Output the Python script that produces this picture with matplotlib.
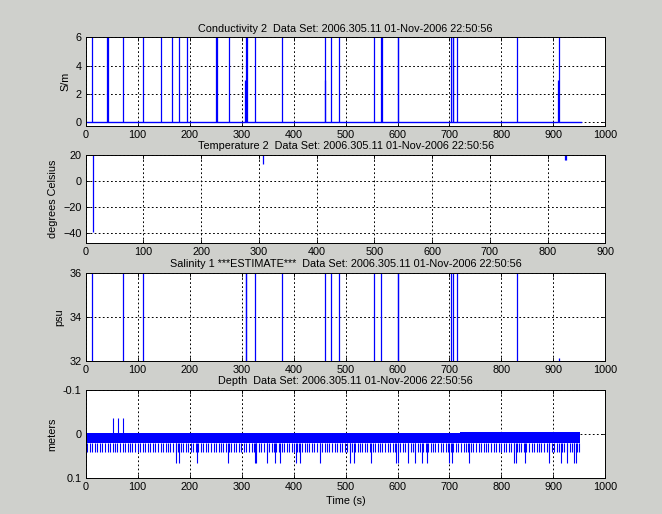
import numpy as np
import matplotlib.pyplot as plt

# Font that looks like the MATLAB default
plt.rcParams['font.family'] = ['Liberation Sans Narrow', 'Liberation Sans', 'DejaVu Sans']

# DATA
data_set = 'Data Set: 2006.305.11 01-Nov-2006 22:50:56'

# Conductivity 2 (S/m): flat at 0 with spikes off the top of the plot
cond_end = 953
cond_spike_times = [13, 41.5, 42.5, 72.4, 110.7, 144, 166.8, 179.8, 194.5, 251.4, 252.2,
                    276.6, 306, 309, 310, 326, 378, 459.7, 461, 472, 487, 554, 568.5, 569.5,
                    600, 600.8, 702, 706, 707, 715, 830, 909, 910.5]
cond_spike_values = [8, 8, 8, 8, 8, 8, 8, 8, 8, 8, 8,
                     8, 3, 8, 8, 8, 8, 3, 8, 8, 8, 8, 8, 8,
                     8, 8, 8, 8, 8, 8, 8, 3, 8]

# Temperature 2: sits above 20, dips below it three times
temp_level = 25
temp_spike_times = [13, 307.6, 830, 831]
temp_spike_values = [-39, 13, 16, 16]

# Salinity 1: sits below 32, spikes through the whole range
sal_level = 30
sal_spike_times = [13, 72, 110.7, 308, 309, 326, 378, 460, 472, 487, 554, 569, 600, 600.8,
                   703, 706, 715, 830, 910]
sal_spike_values = [40, 40, 40, 40, 40, 40, 40, 40, 40, 40, 40, 40, 40, 40,
                    40, 40, 40, 40, 32.15]

# Depth (m): a dense band near 0 with regular downward ticks
depth_band_start = [0, 380, 720]
depth_band_end = [380, 720, 952]
depth_band_top = [-0.002, -0.003, -0.004]
depth_band_bottom = 0.02
depth_tick_times = [3, 8, 13, 18, 22, 27, 32, 37, 42, 47,
                    52, 56, 61, 66, 71, 76, 81, 86, 90, 95,
                    100, 105, 110, 115, 120, 124, 129, 134, 139, 144,
                    149, 154, 158, 163, 168, 173, 178, 183, 188, 192,
                    197, 202, 207, 212, 217, 222, 226, 231, 236, 241,
                    246, 251, 256, 260, 265, 270, 275, 280, 285, 290,
                    294, 299, 304, 309, 314, 319, 324, 328, 333, 338,
                    343, 348, 353, 358, 362, 367, 372, 377, 382, 387,
                    392, 396, 401, 406, 411, 416, 421, 426, 430, 435,
                    440, 445, 450, 455, 460, 464, 469, 474, 479, 484,
                    489, 494, 498, 503, 508, 513, 518, 523, 528, 532,
                    537, 542, 547, 552, 557, 562, 566, 571, 576, 581,
                    586, 591, 596, 600, 605, 610, 615, 620, 625, 630,
                    634, 639, 644, 649, 654, 659, 664, 668, 673, 678,
                    683, 688, 693, 698, 702, 707, 712, 717, 722, 727,
                    732, 736, 741, 746, 751, 756, 761, 766, 770, 775,
                    780, 785, 790, 795, 800, 804, 809, 814, 819, 824,
                    829, 834, 838, 843, 848, 853, 858, 863, 868, 872,
                    877, 882, 887, 892, 897, 902, 906, 911, 916, 921,
                    926, 931, 936, 940, 945, 950]
depth_tick_depth = 0.042
depth_deep_times = [174, 180, 215, 274, 325, 328, 349, 364, 373, 404, 412, 450, 508, 516,
                    549, 597, 600, 620, 634, 647, 657, 700, 704, 738, 825, 828, 845, 892,
                    915, 926, 940, 944]
depth_deep_depth = 0.066
depth_up_times = [52, 63, 72]
depth_up_depth = -0.036

# STYLE
bg = '#cfd0cc'
blue = '#0000ff'
fs = 7.8

fig = plt.figure(figsize=(6.62, 5.14), dpi=100, facecolor=bg)

left, width, height = 0.1295, 0.785, 0.1718
bottoms = [0.7556, 0.5276, 0.2977, 0.0700]
axes = [fig.add_axes([left, b, width, height]) for b in bottoms]


def style_axis(ax):
    ax.set_facecolor('white')
    ax.set_axisbelow(True)
    ax.grid(True, color='black', linestyle=(0, (1.8, 2.4)), linewidth=0.7)
    ax.tick_params(direction='in', length=3, labelsize=fs, pad=3,
                   top=True, right=True, width=0.6)
    for s in ax.spines.values():
        s.set_linewidth(0.7)


# Conductivity
ax = axes[0]
ax.plot([0, cond_end], [0, 0], color=blue, linewidth=1.0)
ax.vlines(cond_spike_times, 0, cond_spike_values, colors=blue, linewidth=0.9)
ax.set_xlim(0, 1000)
ax.set_ylim(-0.25, 6)
ax.set_xticks(range(0, 1001, 100))
ax.set_yticks([0, 2, 4, 6])
ax.set_ylabel('S/m', fontsize=fs)
ax.set_title('Conductivity 2  ' + data_set, fontsize=fs, pad=4)
style_axis(ax)

# Temperature
ax = axes[1]
ax.vlines(temp_spike_times, temp_level, temp_spike_values, colors=blue, linewidth=0.9)
ax.set_xlim(0, 900)
ax.set_ylim(-47.5, 20.5)
ax.set_xticks(range(0, 901, 100))
ax.set_yticks([-40, -20, 0, 20])
ax.set_ylabel('degrees Celsius', fontsize=fs)
ax.set_title('Temperature 2  ' + data_set, fontsize=fs, pad=4)
style_axis(ax)

# Salinity
ax = axes[2]
ax.vlines(sal_spike_times, sal_level, sal_spike_values, colors=blue, linewidth=0.9)
ax.set_xlim(0, 1000)
ax.set_ylim(32, 36)
ax.set_xticks(range(0, 1001, 100))
ax.set_yticks([32, 34, 36])
ax.set_ylabel('psu', fontsize=fs)
ax.set_title('Salinity 1 ***ESTIMATE***  ' + data_set, fontsize=fs, pad=4)
style_axis(ax)

# Depth
ax = axes[3]
for s, e, top in zip(depth_band_start, depth_band_end, depth_band_top):
    ax.fill_between([s, e], top, depth_band_bottom, color=blue, linewidth=0)
ax.vlines(depth_tick_times, depth_band_bottom, depth_tick_depth, colors=blue, linewidth=0.8)
ax.vlines(depth_deep_times, depth_band_bottom, depth_deep_depth, colors=blue, linewidth=0.8)
ax.vlines(depth_up_times, 0, depth_up_depth, colors=blue, linewidth=0.8)
ax.set_xlim(0, 1000)
ax.set_ylim(0.1, -0.1)
ax.set_xticks(range(0, 1001, 100))
ax.set_yticks([-0.1, 0, 0.1])
ax.set_yticklabels(['-0.1', '0', '0.1'])
ax.set_ylabel('meters', fontsize=fs)
ax.set_xlabel('Time (s)', fontsize=fs, labelpad=3)
ax.set_title('Depth  ' + data_set, fontsize=fs, pad=4)
style_axis(ax)

# Save the figure
plt.savefig('out.png', dpi=100, facecolor=bg)
